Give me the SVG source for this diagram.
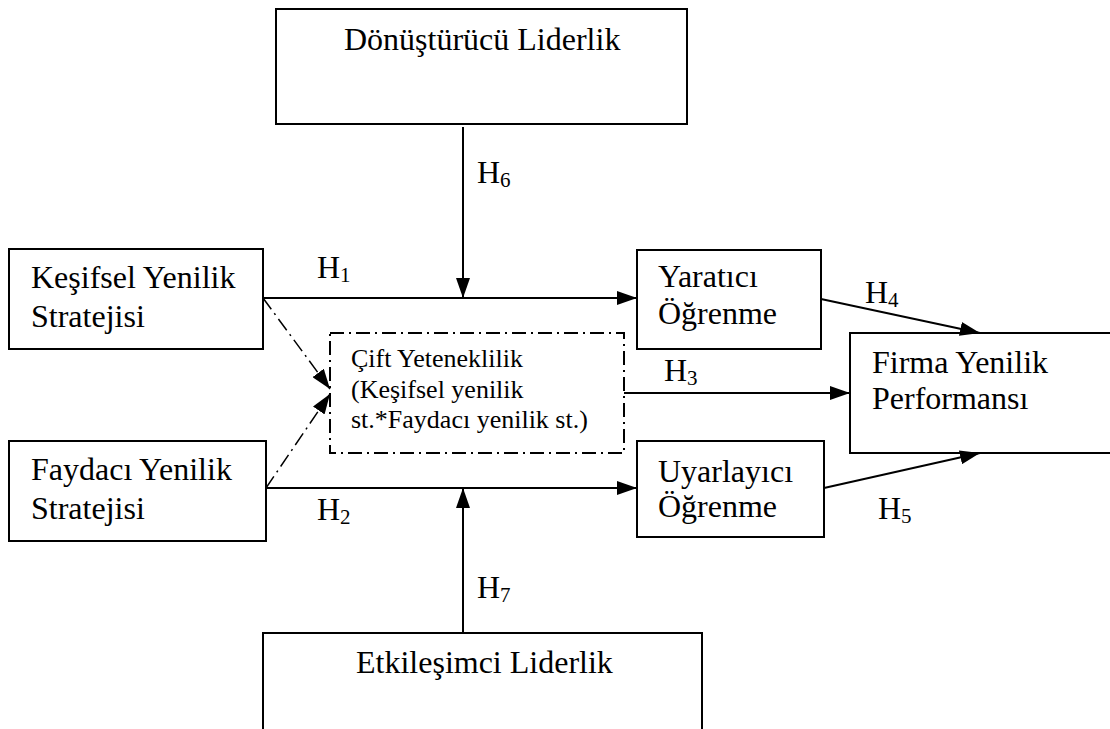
<svg xmlns="http://www.w3.org/2000/svg" width="1110" height="729" viewBox="0 0 1110 729">
  <style>
    .box { fill: #fff; stroke: #000; stroke-width: 2; }
    .dbox { fill: #fff; stroke: #000; stroke-width: 2; stroke-dasharray: 14 5 2 5; }
    text { font-family: 'Liberation Serif', 'Times New Roman', Times, serif; fill: #000; }
    .lbl { font-size: 32px; }
    .sm { font-size: 26px; }
    .sub { font-size: 21px; }
    .edge { fill: none; stroke: #000; stroke-width: 2; }
    .dash { fill: none; stroke: #000; stroke-width: 1.5; stroke-dasharray: 14 5 2 5; }
  </style>
  <defs>
    <marker id="arrow" markerUnits="userSpaceOnUse" markerWidth="20" markerHeight="14" viewBox="0 0 20 14" refX="20" refY="7" orient="auto">
      <path d="M0,0 L20,7 L0,14 Z" fill="#000"/>
    </marker>
  </defs>
  <rect width="1110" height="729" fill="#fff"/>

  <g id="donusturucu">
    <rect class="box" x="276" y="9" width="411" height="115"/>
    <text class="lbl" x="344" y="50" font-family="Liberation Serif, serif">Dönüştürücü Liderlik</text>
  </g>

  <g id="kesifsel">
    <rect class="box" x="9" y="249" width="254" height="100"/>
    <text class="lbl" x="31" y="288">Keşifsel Yenilik</text>
    <text class="lbl" x="31" y="327">Stratejisi</text>
  </g>

  <g id="faydaci">
    <rect class="box" x="9" y="441" width="257" height="100"/>
    <text class="lbl" x="31" y="480">Faydacı Yenilik</text>
    <text class="lbl" x="31" y="519">Stratejisi</text>
  </g>

  <g id="cift">
    <rect class="dbox" x="330" y="333" width="294" height="120"/>
    <text class="sm" x="351" y="367">Çift Yeteneklilik</text>
    <text class="sm" x="351" y="398">(Keşifsel yenilik</text>
    <text class="sm" x="351" y="428">st.*Faydacı yenilik st.)</text>
  </g>

  <g id="yaratici">
    <rect class="box" x="637" y="250" width="184" height="99"/>
    <text class="lbl" x="658" y="287">Yaratıcı</text>
    <text class="lbl" x="658" y="324">Öğrenme</text>
  </g>

  <g id="uyarlayici">
    <rect class="box" x="637" y="441" width="187" height="96"/>
    <text class="lbl" x="658" y="482">Uyarlayıcı</text>
    <text class="lbl" x="658" y="517">Öğrenme</text>
  </g>

  <g id="firma">
    <rect class="box" x="850" y="333" width="270" height="120"/>
    <text class="lbl" x="872" y="373">Firma Yenilik</text>
    <text class="lbl" x="872" y="409">Performansı</text>
  </g>

  <g id="etkilesimci">
    <rect class="box" x="263" y="633" width="439" height="110"/>
    <text class="lbl" x="356" y="673">Etkileşimci Liderlik</text>
  </g>

  <g id="connectors">
    <line class="edge" x1="263" y1="298" x2="637" y2="298" marker-end="url(#arrow)"/>
    <line class="edge" x1="266" y1="488" x2="637" y2="488" marker-end="url(#arrow)"/>
    <line class="edge" x1="463" y1="127" x2="463" y2="298" marker-end="url(#arrow)"/>
    <line class="edge" x1="463" y1="633" x2="463" y2="488" marker-end="url(#arrow)"/>
    <line class="edge" x1="624" y1="393" x2="850" y2="393" marker-end="url(#arrow)"/>
    <line class="edge" x1="821" y1="299" x2="980" y2="333" marker-end="url(#arrow)"/>
    <line class="edge" x1="824" y1="488" x2="980" y2="453" marker-end="url(#arrow)"/>
    <line class="dash" x1="263" y1="298" x2="330" y2="389" marker-end="url(#arrow)"/>
    <line class="dash" x1="266" y1="488" x2="330" y2="394" marker-end="url(#arrow)"/>
  </g>

  <g id="labels">
    <text class="lbl" x="317" y="278">H<tspan class="sub" dy="4">1</tspan></text>
    <text class="lbl" x="317" y="520">H<tspan class="sub" dy="4">2</tspan></text>
    <text class="lbl" x="664" y="381">H<tspan class="sub" dy="4">3</tspan></text>
    <text class="lbl" x="865" y="303">H<tspan class="sub" dy="4">4</tspan></text>
    <text class="lbl" x="878" y="519">H<tspan class="sub" dy="4">5</tspan></text>
    <text class="lbl" x="477" y="183">H<tspan class="sub" dy="4">6</tspan></text>
    <text class="lbl" x="477" y="598">H<tspan class="sub" dy="4">7</tspan></text>
  </g>
</svg>
